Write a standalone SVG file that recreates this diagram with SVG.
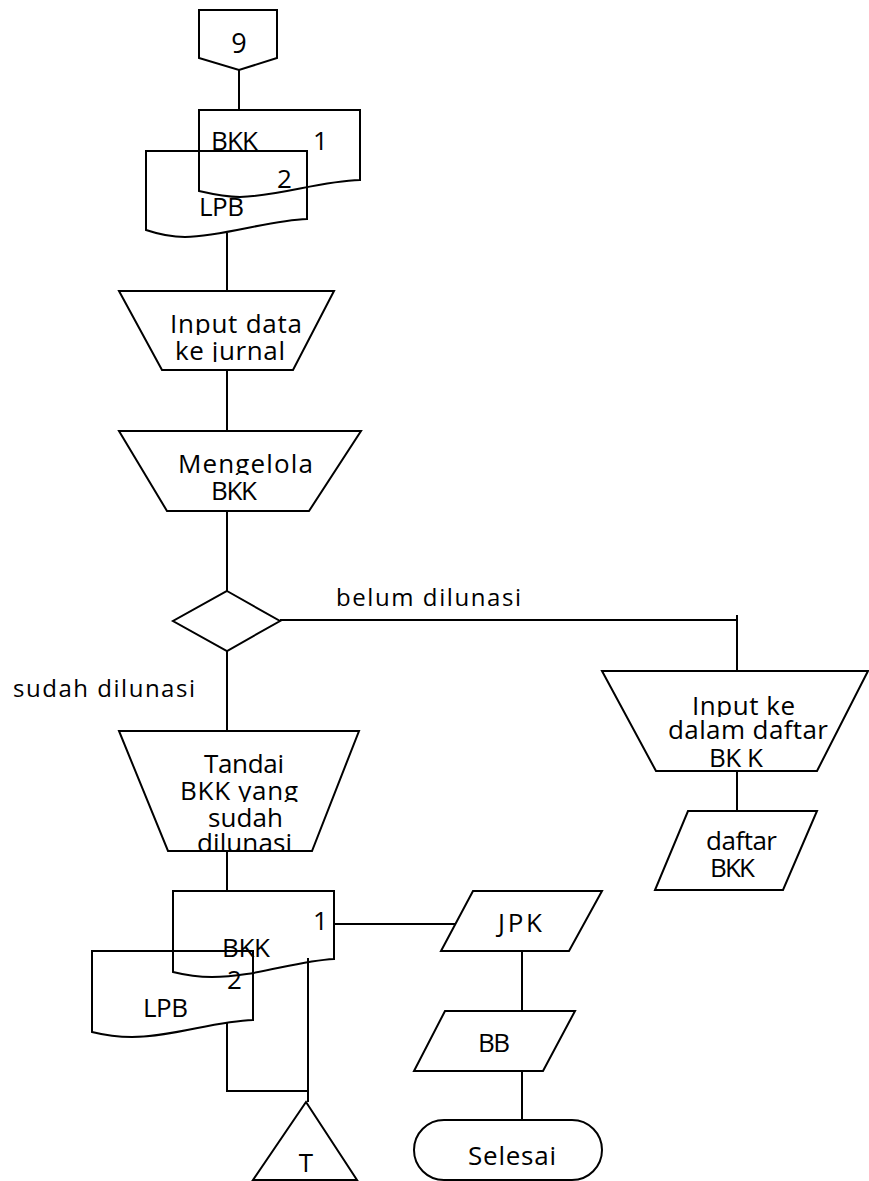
<svg xmlns="http://www.w3.org/2000/svg" width="869" height="1181" viewBox="0 0 869 1181">
  <style>
    .shape { fill: #ffffff; stroke: #000000; stroke-width: 2; stroke-linejoin: miter; }
    .doc { fill: none; stroke: #000000; stroke-width: 2; }
    .edge { fill: none; stroke: #000000; stroke-width: 2; }
    .t { font-family: "Open Sans", "Liberation Sans", sans-serif; font-size: 26px; fill: #000000; }
    .lbl { font-family: "Open Sans", "Liberation Sans", sans-serif; font-size: 24px; fill: #000000; }
    .mid { text-anchor: middle; }
  </style>
  <defs>
    <!-- each line of wrapped text is cut just under its baseline -->
    <clipPath id="cut335" clipPathUnits="userSpaceOnUse"><rect x="0" y="0" width="869" height="335"/></clipPath>
    <clipPath id="cut362" clipPathUnits="userSpaceOnUse"><rect x="0" y="0" width="869" height="362"/></clipPath>
    <clipPath id="cut475" clipPathUnits="userSpaceOnUse"><rect x="0" y="0" width="869" height="475"/></clipPath>
    <clipPath id="cut717" clipPathUnits="userSpaceOnUse"><rect x="0" y="0" width="869" height="717"/></clipPath>
    <clipPath id="cut802" clipPathUnits="userSpaceOnUse"><rect x="0" y="0" width="869" height="802"/></clipPath>
    <clipPath id="cut850" clipPathUnits="userSpaceOnUse"><rect x="0" y="0" width="869" height="850"/></clipPath>
  </defs>

  <!-- connectors -->
  <g id="connectors">
    <line class="edge" x1="239" y1="70" x2="239" y2="110"/>
    <line class="edge" x1="227" y1="233" x2="227" y2="291"/>
    <line class="edge" x1="227" y1="370" x2="227" y2="431"/>
    <line class="edge" x1="227" y1="511" x2="227" y2="591"/>
    <polyline class="edge" points="280,620 737,620"/>
    <line class="edge" x1="737" y1="615" x2="737" y2="671"/>
    <line class="edge" x1="737" y1="771" x2="737" y2="811"/>
    <line class="edge" x1="227" y1="651" x2="227" y2="731"/>
    <line class="edge" x1="227" y1="851" x2="227" y2="891"/>
    <polyline class="edge" points="227,1022 227,1091 308,1091"/>
    <line class="edge" x1="308" y1="958" x2="308" y2="1102"/>
    <line class="edge" x1="334" y1="924" x2="455" y2="924"/>
    <line class="edge" x1="522" y1="951" x2="522" y2="1011"/>
    <line class="edge" x1="522" y1="1071" x2="522" y2="1120"/>
  </g>

  <!-- off-page connector 9 -->
  <g id="offpage-9">
    <polygon class="shape" points="199,10 277,10 277,58 239,70 199,58"/>
    <text class="t mid" x="239" y="53" style="font-size:27px">9</text>
  </g>

  <!-- BKK / LPB documents (top) -->
  <g id="doc-bkk-top">
    <path class="doc" d="M199,191 V110 H360 V180 C320,181 280,196 240,197 C225,197 212,194 199,191 Z"/>
    <text class="t" x="211" y="150" textLength="47">BKK</text>
    <text class="t" x="313" y="150">1</text>
  </g>
  <g id="doc-lpb-top">
    <path class="doc" d="M146,230 V151 H307 V219 C270,220 225,236 185,237 C170,237 158,234 146,230 Z"/>
    <text class="t" x="277" y="188">2</text>
    <text class="t" x="199" y="216" textLength="45">LPB</text>
  </g>

  <!-- manual operation: Input data ke jurnal -->
  <g id="op-input-jurnal">
    <polygon class="shape" points="119,291 334,291 293,370 162,370"/>
    <text class="t" x="170" y="333" textLength="132" clip-path="url(#cut335)">Input data</text>
    <text class="t" x="175" y="360" textLength="110" clip-path="url(#cut362)">ke jurnal</text>
  </g>

  <!-- manual operation: Mengelola BKK -->
  <g id="op-mengelola">
    <polygon class="shape" points="119,431 361,431 309,511 167,511"/>
    <text class="t" x="178" y="473" textLength="135" clip-path="url(#cut475)">Mengelola</text>
    <text class="t" x="211" y="500" textLength="46">BKK</text>
  </g>

  <!-- decision -->
  <g id="decision">
    <polygon class="shape" points="227,591 280,621 227,651 173,621"/>
  </g>
  <g id="label-belum">
    <text class="lbl" x="336" y="606" textLength="185">belum dilunasi</text>
  </g>
  <g id="label-sudah">
    <text class="lbl" x="13" y="697" textLength="182">sudah dilunasi</text>
  </g>

  <!-- manual operation: Input ke dalam daftar BKK -->
  <g id="op-input-daftar">
    <polygon class="shape" points="602,671 868,671 817,771 656,771"/>
    <text class="t" x="692" y="715" textLength="103" clip-path="url(#cut717)">Input ke</text>
    <text class="t" x="668" y="739" textLength="160">dalam daftar</text>
    <text class="t" x="709" y="767" textLength="54">BK K</text>
  </g>

  <!-- data: daftar BKK -->
  <g id="data-daftar">
    <polygon class="shape" points="688,811 817,811 783,890 655,890"/>
    <text class="t" x="706" y="850" textLength="71">daftar</text>
    <text class="t" x="710" y="877" textLength="45">BKK</text>
  </g>

  <!-- manual operation: Tandai BKK yang sudah dilunasi -->
  <g id="op-tandai">
    <polygon class="shape" points="119,731 359,731 312,851 168,851"/>
    <text class="t" x="204" y="773" textLength="80">Tandai</text>
    <text class="t" x="180" y="800" textLength="118" clip-path="url(#cut802)">BKK yang</text>
    <text class="t" x="208" y="827" textLength="75">sudah</text>
    <text class="t" x="197" y="852" textLength="95" clip-path="url(#cut850)">dilunasi</text>
  </g>

  <!-- BKK / LPB documents (bottom) -->
  <g id="doc-bkk-bottom">
    <path class="doc" d="M173,972 V891 H334 V959 C295,961 255,977 212,977 C197,977 185,975 173,972 Z"/>
    <text class="t" x="313" y="930">1</text>
    <text class="t" x="222" y="957" textLength="48">BKK</text>
    <text class="t" x="227" y="989">2</text>
  </g>
  <g id="doc-lpb-bottom">
    <path class="doc" d="M92,1032 V951 H253 V1020 C215,1021 172,1037 132,1037 C117,1037 104,1035 92,1032 Z"/>
    <text class="t" x="143" y="1017" textLength="45">LPB</text>
  </g>

  <!-- archive T -->
  <g id="archive-t">
    <polygon class="shape" points="306,1102 357,1180 253,1180"/>
    <text class="t mid" x="306" y="1172">T</text>
  </g>

  <!-- data: JPK -->
  <g id="data-jpk">
    <polygon class="shape" points="473,891 602,891 569,951 441,951"/>
    <text class="t" x="498" y="932" textLength="44">JPK</text>
  </g>

  <!-- data: BB -->
  <g id="data-bb">
    <polygon class="shape" points="445,1011 575,1011 543,1071 414,1071"/>
    <text class="t" x="478" y="1052" textLength="32">BB</text>
  </g>

  <!-- terminator -->
  <g id="end-selesai">
    <rect class="shape" x="414" y="1120" width="188" height="60" rx="30" ry="30"/>
    <text class="t" x="468" y="1165" textLength="88">Selesai</text>
  </g>
</svg>
